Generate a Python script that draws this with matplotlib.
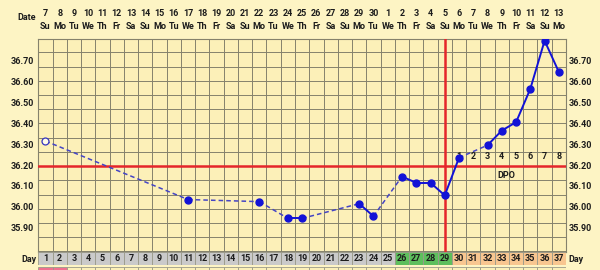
import numpy as np
import matplotlib
matplotlib.use("Agg")
import matplotlib.pyplot as plt
from matplotlib.transforms import blended_transform_factory

# cycle data
days = [1, 11, 16, 18, 19, 23, 24, 26, 27, 28, 29, 30, 32, 33, 34, 35, 36, 37]
temps = [36.32, 36.04, 36.03, 35.95, 35.95, 36.02, 35.96, 36.15, 36.12, 36.12,
         36.06, 36.24, 36.30, 36.37, 36.41, 36.57, 36.80, 36.65]
open_days = [1]

dates = ["7", "8", "9", "10", "11", "12", "13", "14", "15", "16", "17", "18", "19",
         "20", "21", "22", "23", "24", "25", "26", "27", "28", "29", "30", "1", "2",
         "3", "4", "5", "6", "7", "8", "9", "10", "11", "12", "13"]
weekdays = ["Su", "Mo", "Tu", "We", "Th", "Fr", "Sa"]
ytick_vals = [35.90, 36.00, 36.10, 36.20, 36.30, 36.40, 36.50, 36.60, 36.70]
coverline = 36.20
ovulation_day = 29
fertile_days = [26, 27, 28, 29]
dpo_days = [30, 31, 32, 33, 34, 35, 36, 37]
dpo_labels = ["1", "2", "3", "4", "5", "6", "7", "8"]
period_days = [1, 2]
n_days = 37

bg = "#fdf4c4"
plot_bg = "#fcf0b8"
gridc = "#85826c"
txt = "#1c1c1c"
blue = "#1212d6"
red = "#e5262a"
font = "Roboto"

fig = plt.figure(figsize=(6, 2.7), dpi=100, facecolor=bg)
W, H = 600.0, 270.0
left, right, top, bot = 38.3, 566.0, 39.0, 252.0
ax = fig.add_axes([left / W, 1 - bot / H, (right - left) / W, (bot - top) / H])
ax.set_facecolor(plot_bg)
ax.set_xlim(0.5, n_days + 0.5)
ymin, ymax = 35.789, 36.808
ax.set_ylim(ymin, ymax)

# square-ish grid
step = 0.068
hlines = np.concatenate([coverline - step * np.arange(1, 10), coverline + step * np.arange(0, 10)])
hlines = hlines[(hlines > ymin) & (hlines < ymax)]
ax.set_xticks(np.arange(1.5, n_days, 1))
ax.set_yticks(hlines)
ax.grid(True, color=gridc, lw=0.7, zorder=0)
ax.tick_params(length=0, labelleft=False, labelbottom=False)
for s in ax.spines.values():
    s.set_color(gridc)
    s.set_linewidth(0.8)

# coverline and ovulation line
ax.axhline(coverline, color=red, lw=1.8, zorder=3)
ax.axvline(ovulation_day, color=red, lw=1.8, zorder=3)

# temperature line: solid for consecutive days, dashed over gaps
for i in range(len(days) - 1):
    xs = [days[i], days[i + 1]]
    ys = [temps[i], temps[i + 1]]
    if days[i + 1] - days[i] == 1:
        ax.plot(xs, ys, color=blue, lw=1.4, zorder=4)
    else:
        ax.plot(xs, ys, color="#4545c4", lw=1.1, dashes=(3, 2), zorder=4)
for d, t in zip(days, temps):
    if d in open_days:
        ax.plot(d, t, "o", ms=5, mfc="#fffbe8", mec="#3535c0", mew=0.9, zorder=5)
    else:
        ax.plot(d, t, "o", ms=5, color=blue, zorder=5)

# DPO labels
for d, lab in zip(dpo_days, dpo_labels):
    ax.text(d, 36.245, lab, ha="center", va="center", fontsize=6.5,
            fontweight="bold", color=txt, family=font, zorder=2)
ax.text(33.3, 36.155, "DPO", ha="center", va="center", fontsize=6.5,
        fontweight="bold", color=txt, family=font, zorder=2)

# temperature labels on both sides
tr = blended_transform_factory(ax.transAxes, ax.transData)
for v in ytick_vals:
    ax.text(-0.008, v, "%.2f" % v, transform=tr, ha="right", va="center",
            fontsize=6.5, fontweight="bold", color=txt, family=font)
    ax.text(1.005, v, "%.2f" % v, transform=tr, ha="left", va="center",
            fontsize=6.5, fontweight="bold", color=txt, family=font)

# header with dates and weekdays
trx = blended_transform_factory(ax.transData, ax.transAxes)
for i in range(n_days):
    ax.text(i + 1, 1.122, dates[i], transform=trx, ha="center", va="center",
            fontsize=6.5, fontweight="bold", color=txt, family=font)
    ax.text(i + 1, 1.061, weekdays[i % 7], transform=trx, ha="center", va="center",
            fontsize=6.5, fontweight="bold", color=txt, family=font)
ax.text(-0.004, 1.10, "Date", transform=ax.transAxes, ha="right", va="center",
        fontsize=6.5, fontweight="bold", color=txt, family=font)

# cycle day row
all_days = np.arange(1, n_days + 1)
colors = []
for d in all_days:
    if d in fertile_days:
        colors.append("#5dbf5d")
    elif d > ovulation_day:
        colors.append("#f8c690")
    else:
        colors.append("#cacaca")
ax2 = fig.add_axes([left / W, 1 - 265 / H, (right - left) / W, 13 / H])
ax2.bar(all_days, 1, width=1, bottom=0, color=colors, edgecolor="#9a9a8a", lw=0.6)
ax2.set_xlim(0.5, n_days + 0.5)
ax2.set_ylim(0, 1)
ax2.axis("off")
for d in all_days:
    ax2.text(d, 0.5, str(d), ha="center", va="center", fontsize=6.5,
             fontweight="bold", color=txt, family=font)
ax2.text(-0.004, 0.45, "Day", transform=ax2.transAxes, ha="right", va="center",
         fontsize=6.5, fontweight="bold", color=txt, family=font)
ax2.text(1.005, 0.4, "Day", transform=ax2.transAxes, ha="left", va="center",
         fontsize=6.5, fontweight="bold", color=txt, family=font)

# partially visible row below
ax3 = fig.add_axes([left / W, 1 - 281 / H, (right - left) / W, 14 / H])
row_colors = ["#f07090" if d in period_days else plot_bg for d in all_days]
ax3.bar(all_days, 1, width=1, bottom=0, color=row_colors, edgecolor="#9a9a8a", lw=0.6)
ax3.set_xlim(0.5, n_days + 0.5)
ax3.set_ylim(0, 1)
ax3.axis("off")

fig.savefig("out.png", dpi=100, facecolor=bg)
